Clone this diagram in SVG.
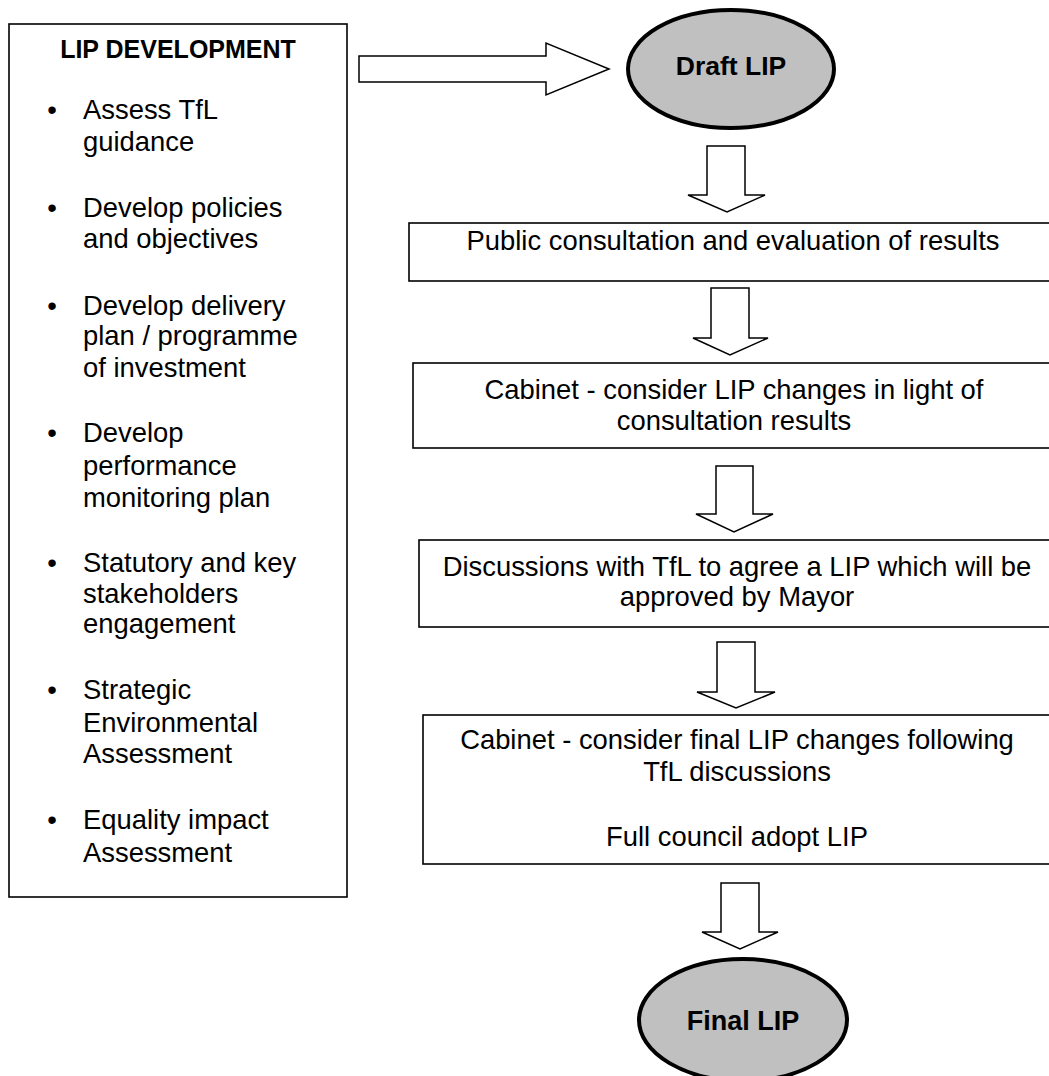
<svg xmlns="http://www.w3.org/2000/svg" width="1049" height="1076" viewBox="0 0 1049 1076">
<style>
.box{fill:#fff;stroke:#000;stroke-width:1.6}
.oval{fill:#c0c0c0;stroke:#000;stroke-width:4}
.arr{fill:#fff;stroke:#000;stroke-width:1.5;stroke-linejoin:miter}
.t{font-family:"Liberation Sans",Arial,sans-serif;font-size:27.4px;fill:#000}
.c{text-anchor:middle}
.b{font-weight:bold}
</style>
<rect width="1049" height="1076" fill="#fff"/>
<g id="connectors">
<polygon class="arr" points="359,56 546,56 546,43 609,69 546,95 546,82 359,82"/>
<polygon class="arr" points="707,146 745,146 745,195 765,195 727,212 688,195 707,195"/>
<polygon class="arr" points="711,288 749,288 749,338 768,338 730,355 693,338 711,338"/>
<polygon class="arr" points="716,466 753,466 753,514 773,514 734,532 696,514 716,514"/>
<polygon class="arr" points="717,642 755,642 755,692 775,692 736,708 697,692 717,692"/>
<polygon class="arr" points="721,883 759,883 759,932 778,932 740,949 702,932 721,932"/>
</g>
<g id="lip-development">
<rect class="box" x="9" y="24" width="338" height="873"/>
<text class="t c b" x="178" y="58" style="font-size:25px">LIP DEVELOPMENT</text>
<g class="t">
<text x="52" y="119" class="c">•</text><text x="83" y="119">Assess TfL</text><text x="83" y="151">guidance</text>
<text x="52" y="217" class="c">•</text><text x="83" y="217">Develop policies</text><text x="83" y="248">and objectives</text>
<text x="52" y="315" class="c">•</text><text x="83" y="315">Develop delivery</text><text x="83" y="345">plan / programme</text><text x="83" y="377">of investment</text>
<text x="52" y="442" class="c">•</text><text x="83" y="442">Develop</text><text x="83" y="475">performance</text><text x="83" y="507">monitoring plan</text>
<text x="52" y="572" class="c">•</text><text x="83" y="572">Statutory and key</text><text x="83" y="603">stakeholders</text><text x="83" y="633">engagement</text>
<text x="52" y="699" class="c">•</text><text x="83" y="699">Strategic</text><text x="83" y="732">Environmental</text><text x="83" y="763">Assessment</text>
<text x="52" y="829" class="c">•</text><text x="83" y="829">Equality impact</text><text x="83" y="862">Assessment</text>
</g>
</g>
<g id="draft-lip">
<ellipse class="oval" cx="731" cy="69" rx="103" ry="59"/>
<text class="t c b" x="731" y="74.5" style="font-size:26.5px">Draft LIP</text>
</g>
<g id="public-consultation">
<rect class="box" x="409" y="223" width="660" height="58"/>
<text class="t c" x="733" y="250">Public consultation and evaluation of results</text>
</g>
<g id="cabinet-consider">
<rect class="box" x="413" y="363" width="660" height="85"/>
<text class="t c" x="734" y="399">Cabinet - consider LIP changes in light of</text>
<text class="t c" x="734" y="430">consultation results</text>
</g>
<g id="discussions-tfl">
<rect class="box" x="419" y="540" width="660" height="87"/>
<text class="t c" x="737" y="576">Discussions with TfL to agree a LIP which will be</text>
<text class="t c" x="737" y="606">approved by Mayor</text>
</g>
<g id="cabinet-final">
<rect class="box" x="423" y="715" width="660" height="149"/>
<text class="t c" x="737" y="749">Cabinet - consider final LIP changes following</text>
<text class="t c" x="737" y="781">TfL discussions</text>
<text class="t c" x="737" y="846">Full council adopt LIP</text>
</g>
<g id="final-lip">
<ellipse class="oval" cx="743" cy="1020" rx="104" ry="61"/>
<text class="t c b" x="743" y="1030" style="font-size:27px">Final LIP</text>
</g>
</svg>
